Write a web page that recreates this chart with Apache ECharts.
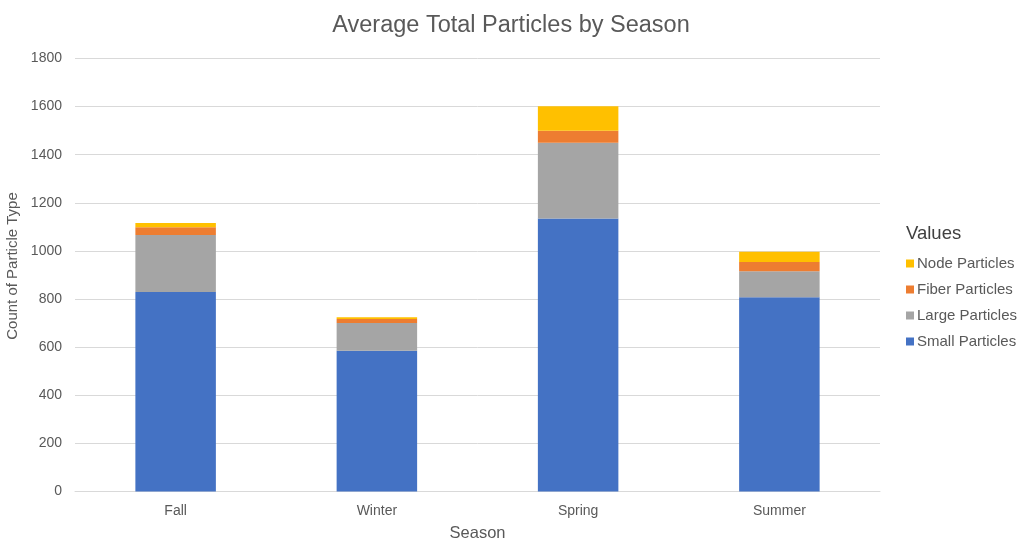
<!DOCTYPE html>
<html>
<head>
<meta charset="utf-8">
<script src="https://cdn.jsdelivr.net/npm/echarts@6/dist/echarts.min.js"></script>
<style>
  html, body { margin: 0; padding: 0; background: #fff; }
  #chart { width: 1021px; height: 540px; }
</style>
</head>
<body>
<div id="chart"></div>
<script>
// Seasons on the category axis
const seasons = ['Fall', 'Winter', 'Spring', 'Summer'];

// Average particle counts per season, by type
const smallParticles = [829, 585, 1135, 807];
const largeParticles = [237, 115, 315, 109];
const fiberParticles = [33, 17, 50, 38];
const nodeParticles = [17, 7, 102, 43];

// Value axis ticks
const yTicks = [0, 200, 400, 600, 800, 1000, 1200, 1400, 1600, 1800];

const FONT = '"Liberation Sans", Arial, Helvetica, sans-serif';
const TEXT = '#595959';

const chart = echarts.init(document.getElementById('chart'), null, { renderer: 'canvas' });

function stackSeries(name, data, color) {
  return {
    name: name,
    type: 'bar',
    stack: 'total',
    data: data,
    barWidth: '40%',
    itemStyle: { color: color },
    emphasis: { disabled: true }
  };
}

chart.setOption({
  animation: false,
  backgroundColor: '#ffffff',
  textStyle: { fontFamily: FONT },
  title: [
    {
      text: 'Average Total Particles by Season',
      left: 506,
      top: 9,
      textAlign: 'center',
      textStyle: { fontFamily: FONT, fontSize: 23.5, fontWeight: 'normal', color: TEXT }
    },
    {
      text: 'Values',
      left: 901,
      top: 219,
      textStyle: { fontFamily: FONT, fontSize: 18.5, fontWeight: 'normal', color: '#404040' }
    }
  ],
  legend: {
    orient: 'vertical',
    left: 901,
    top: 251,
    itemWidth: 8,
    itemHeight: 8,
    itemGap: 11,
    icon: 'rect',
    data: ['Node Particles', 'Fiber Particles', 'Large Particles', 'Small Particles'],
    textStyle: { fontFamily: FONT, fontSize: 15, color: TEXT, padding: [0, 0, 0, -2] },
    selectedMode: false
  },
  grid: {
    left: 75,
    right: 141,
    top: 58.5,
    bottom: 48.5,
    containLabel: false,
    outerBoundsMode: 'none'
  },
  xAxis: {
    type: 'category',
    data: seasons,
    name: 'Season',
    nameLocation: 'middle',
    nameGap: 33,
    nameTextStyle: { fontFamily: FONT, fontSize: 16.5, color: TEXT },
    axisLine: { lineStyle: { color: '#d9d9d9', width: 1 } },
    axisTick: { show: false },
    axisLabel: { fontFamily: FONT, fontSize: 14, color: TEXT, margin: 13 }
  },
  yAxis: {
    type: 'value',
    min: yTicks[0],
    max: yTicks[yTicks.length - 1],
    interval: yTicks[1] - yTicks[0],
    name: 'Count of Particle Type',
    nameLocation: 'middle',
    nameGap: 50,
    nameTextStyle: { fontFamily: FONT, fontSize: 15, color: TEXT, padding: [0, 0, 0, 18] },
    axisLine: { show: false },
    axisTick: { show: false },
    axisLabel: {
      fontFamily: FONT, fontSize: 14, color: TEXT, margin: 13,
      formatter: function (v) { return String(v); }
    },
    splitLine: { lineStyle: { color: '#d9d9d9', width: 1 } }
  },
  series: [
    stackSeries('Small Particles', smallParticles, '#4472C4'),
    stackSeries('Large Particles', largeParticles, '#A5A5A5'),
    stackSeries('Fiber Particles', fiberParticles, '#ED7D31'),
    stackSeries('Node Particles', nodeParticles, '#FFC000')
  ]
});
</script>
</body>
</html>
